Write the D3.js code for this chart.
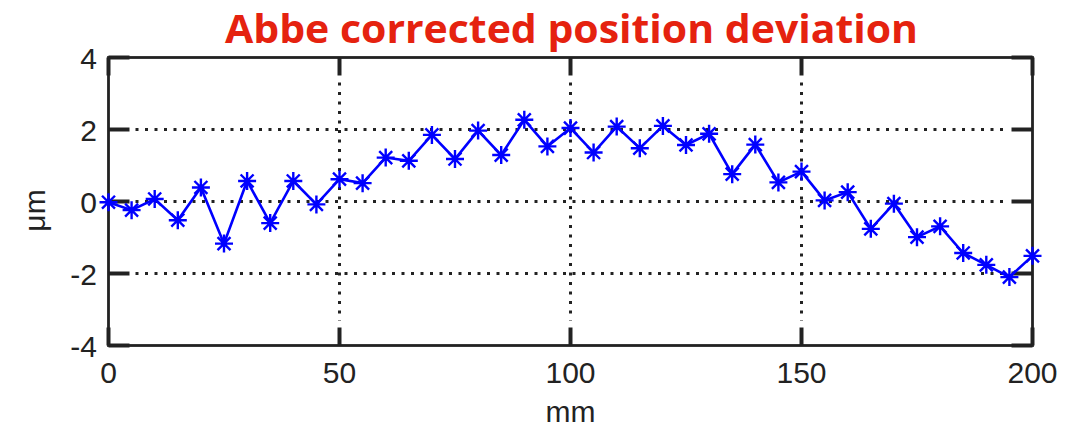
<!DOCTYPE html>
<html><head><meta charset="utf-8">
<script src="https://cdn.jsdelivr.net/npm/d3@7"></script>
<style>body{margin:0;background:#fff;} svg{display:block;}</style>
</head><body>
<svg id="c" width="1087" height="427"></svg>
<script>
const positions = [0,5,10,15,20,25,30,35,40,45,50,55,60,65,70,75,80,85,90,95,100,105,110,115,120,125,130,135,140,145,150,155,160,165,170,175,180,185,190,195,200];
const deviation = [-0.02,-0.24,0.07,-0.52,0.39,-1.17,0.57,-0.60,0.57,-0.08,0.62,0.51,1.22,1.13,1.85,1.18,1.97,1.29,2.27,1.53,2.04,1.36,2.08,1.48,2.10,1.57,1.88,0.76,1.58,0.53,0.83,0.03,0.26,-0.76,-0.06,-0.99,-0.69,-1.43,-1.76,-2.10,-1.51];
const xTicks = [0,50,100,150,200];
const yTicks = [-4,-2,0,2,4];
const titleText = "Abbe corrected position deviation";
const xLabel = "mm";
const yLabel = "μm";

const svg = d3.select("#c");
const L = 108.5, R = 1032.5, T = 57.5, B = 345.5;
const x = d3.scaleLinear().domain([0,200]).range([L,R]);
const y = d3.scaleLinear().domain([-4,4]).range([B,T]);
const ink = "#222";
const labelFont = "'Liberation Sans Narrow','Liberation Sans',Arial,sans-serif";

// grid
const grid = svg.append("g").attr("stroke","#222").attr("stroke-width",3).attr("stroke-dasharray","3,6.5");
grid.selectAll(".gx").data(xTicks.filter(d=>d>0&&d<200)).join("line")
  .attr("x1",d=>x(d)).attr("x2",d=>x(d)).attr("y1",T+25).attr("y2",B-25);
grid.selectAll(".gy").data(yTicks.filter(d=>d>-4&&d<4)).join("line")
  .attr("y1",d=>y(d)).attr("y2",d=>y(d)).attr("x1",L+27).attr("x2",R-27);

// ticks (inside, both sides)
const tk = svg.append("g").attr("stroke",ink).attr("stroke-width",4);
xTicks.forEach(d=>{
  tk.append("line").attr("x1",x(d)).attr("x2",x(d)).attr("y1",B).attr("y2",B-18);
  tk.append("line").attr("x1",x(d)).attr("x2",x(d)).attr("y1",T).attr("y2",T+18);
});
yTicks.forEach(d=>{
  tk.append("line").attr("y1",y(d)).attr("y2",y(d)).attr("x1",L).attr("x2",L+21);
  tk.append("line").attr("y1",y(d)).attr("y2",y(d)).attr("x1",R).attr("x2",R-21);
});

// frame
svg.append("rect").attr("x",L).attr("y",T).attr("width",R-L).attr("height",B-T)
  .attr("fill","none").attr("stroke",ink).attr("stroke-width",2.8);

// tick labels
svg.append("g").selectAll("text").data(xTicks).join("text")
  .attr("x",d=>x(d)).attr("y",383).attr("text-anchor","middle")
  .attr("font-family",labelFont).attr("font-size",30).attr("fill",ink)
  .text(d=>d);
svg.append("g").selectAll("text").data(yTicks).join("text")
  .attr("x",97).attr("y",d=>y(d)+11).attr("text-anchor","end")
  .attr("font-family",labelFont).attr("font-size",30).attr("fill",ink)
  .text(d=>d);

// axis labels
svg.append("text").attr("x",x(100)).attr("y",422).attr("text-anchor","middle")
  .attr("font-family",labelFont).attr("font-size",30).attr("fill",ink).text(xLabel);
svg.append("text").attr("transform",`translate(45,${y(0)+9}) rotate(-90)`).attr("text-anchor","middle")
  .attr("font-family",labelFont).attr("font-size",30).attr("fill",ink).text(yLabel);

// title
svg.append("text").attr("x",225).attr("y",43)
  .attr("font-family","'Open Sans','Noto Sans',sans-serif").attr("font-weight","bold")
  .attr("font-size",40).attr("fill","#e5220f")
  .attr("textLength",693).attr("lengthAdjust","spacingAndGlyphs").text(titleText);

// data line
const pts = positions.map((p,i)=>[p,deviation[i]]);
svg.append("path").datum(pts)
  .attr("fill","none").attr("stroke","#0000ff").attr("stroke-width",2.6)
  .attr("d",d3.line().x(d=>x(d[0])).y(d=>y(d[1])));

// asterisk markers
const r = 9, rd = r*0.72;
const star = `M${-r},0L${r},0M0,${-r}L0,${r}M${-rd},${-rd}L${rd},${rd}M${-rd},${rd}L${rd},${-rd}`;
svg.append("g").selectAll("path").data(pts).join("path")
  .attr("transform",d=>`translate(${x(d[0])},${y(d[1])})`)
  .attr("d",star).attr("fill","none").attr("stroke","#0000ff").attr("stroke-width",2.4);
</script>
</body></html>
